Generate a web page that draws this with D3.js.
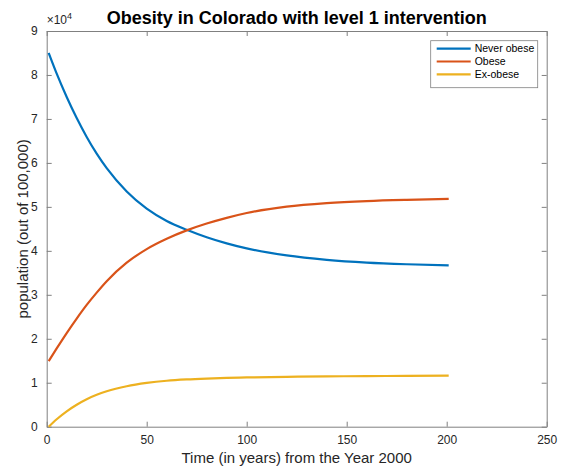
<!DOCTYPE html>
<html>
<head>
<meta charset="utf-8">
<script src="https://cdn.jsdelivr.net/npm/d3@7"></script>
<style>
  body { margin: 0; background: #fff; }
  svg { font-family: "Liberation Sans", Arial, Helvetica, sans-serif; }
  .axis path, .axis line { stroke: #808080; }
  .axis text { fill: #262626; font-size: 12px; }
</style>
</head>
<body>
<div id="chart"></div>
<script>

// time points (years since 2000)
var years = [1, 5, 10, 15, 20, 25, 30, 40, 50, 60, 70, 80, 90, 100, 120, 140, 160, 180, 201];

// population out of 100,000
var neverObese = [85000, 80300, 75000, 70200, 65900, 62100, 58800, 53500, 49600, 46800, 44800, 43100, 41700, 40550, 38950, 37950, 37320, 36950, 36700];
var obese      = [14900, 17800, 21300, 24600, 27700, 30500, 33100, 37300, 40400, 42750, 44650, 46200, 47500, 48600, 50050, 50850, 51320, 51600, 51800];
var exObese    = [0, 1700, 3500, 5000, 6250, 7250, 8050, 9200, 9950, 10450, 10750, 10950, 11100, 11200, 11350, 11450, 11510, 11560, 11600];

var seriesNames = ["Never obese", "Obese", "Ex-obese"];
var seriesColors = ["#0072BD", "#D95319", "#EDB120"];
var xTicks = [0, 50, 100, 150, 200, 250];
var yTicks = [0, 1, 2, 3, 4, 5, 6, 7, 8, 9];

var W = 565, H = 468;
var margin = { top: 31, right: 18.3, bottom: 41.3, left: 46.7 };
var width = W - margin.left - margin.right,
    height = H - margin.top - margin.bottom;

var svg = d3.select("#chart").append("svg")
    .attr("width", W)
    .attr("height", H);

var g = svg.append("g")
    .attr("transform", "translate(" + margin.left + "," + margin.top + ")");

var x = d3.scaleLinear().domain([0, 250]).range([0, width]);
var y = d3.scaleLinear().domain([0, 90000]).range([height, 0]);

// axes, ticks pointing inward like matlab, mirrored on top/right
var xAxis = d3.axisBottom(x).tickValues(xTicks).tickSizeInner(-5).tickSizeOuter(0).tickPadding(9);
var yAxis = d3.axisLeft(y).tickValues(yTicks.map(function(d) { return d * 1e4; }))
    .tickFormat(function(d) { return d / 1e4; })
    .tickSizeInner(-5).tickSizeOuter(0).tickPadding(9);

g.append("g").attr("class", "x-axis axis")
    .attr("transform", "translate(0," + height + ")")
    .call(xAxis);
g.append("g").attr("class", "y-axis axis").call(yAxis);

g.append("g").attr("class", "axis")
    .call(d3.axisTop(x).tickValues(xTicks).tickSizeInner(-5).tickSizeOuter(0).tickFormat(""));
g.append("g").attr("class", "axis")
    .attr("transform", "translate(" + width + ",0)")
    .call(d3.axisRight(y).tickValues(yTicks.map(function(d) { return d * 1e4; }))
        .tickSizeInner(-5).tickSizeOuter(0).tickFormat(""));

// lines
var line = d3.line()
    .x(function(d) { return x(d[0]); })
    .y(function(d) { return y(d[1]); })
    .curve(d3.curveMonotoneX);

[neverObese, obese, exObese].forEach(function(vals, i) {
    g.append("path")
        .datum(years.map(function(t, j) { return [t, vals[j]]; }))
        .attr("fill", "none")
        .attr("stroke", seriesColors[i])
        .attr("stroke-width", 2.2)
        .attr("d", line);
});

// exponent label
var expo = svg.append("text")
    .attr("x", margin.left)
    .attr("y", 24)
    .style("font-size", "12px")
    .style("fill", "#262626");
expo.append("tspan").text("\u00d710");
expo.append("tspan").attr("dy", -5).style("font-size", "9px").text("4");

// title
svg.append("text")
    .attr("x", margin.left + width / 2)
    .attr("y", 24)
    .attr("text-anchor", "middle")
    .style("font-size", "18px")
    .style("font-weight", "bold")
    .style("fill", "#000")
    .text("Obesity in Colorado with level 1 intervention");

// axis titles
svg.append("text")
    .attr("x", margin.left + width / 2)
    .attr("y", 463)
    .attr("text-anchor", "middle")
    .style("font-size", "15px")
    .style("fill", "#262626")
    .text("Time (in years) from the Year 2000");

svg.append("text")
    .attr("transform", "translate(28," + (margin.top + height / 2) + ") rotate(-90)")
    .attr("text-anchor", "middle")
    .style("font-size", "15px")
    .style("fill", "#262626")
    .text("population (out of 100,000)");

// legend
var lg = svg.append("g").attr("transform", "translate(430.7,40.7)");
lg.append("rect")
    .attr("width", 107)
    .attr("height", 47)
    .attr("fill", "#fff")
    .attr("stroke", "#808080")
    .attr("stroke-width", 0.8);

seriesNames.forEach(function(name, i) {
    var row = lg.append("g").attr("transform", "translate(0," + (8 + i * 12.8) + ")");
    row.append("line")
        .attr("x1", 6).attr("x2", 40)
        .attr("stroke", seriesColors[i])
        .attr("stroke-width", 2.2);
    row.append("text")
        .attr("x", 44)
        .attr("dy", "0.35em")
        .style("font-size", "10.5px")
        .style("fill", "#000")
        .text(name);
});

</script>
</body>
</html>
